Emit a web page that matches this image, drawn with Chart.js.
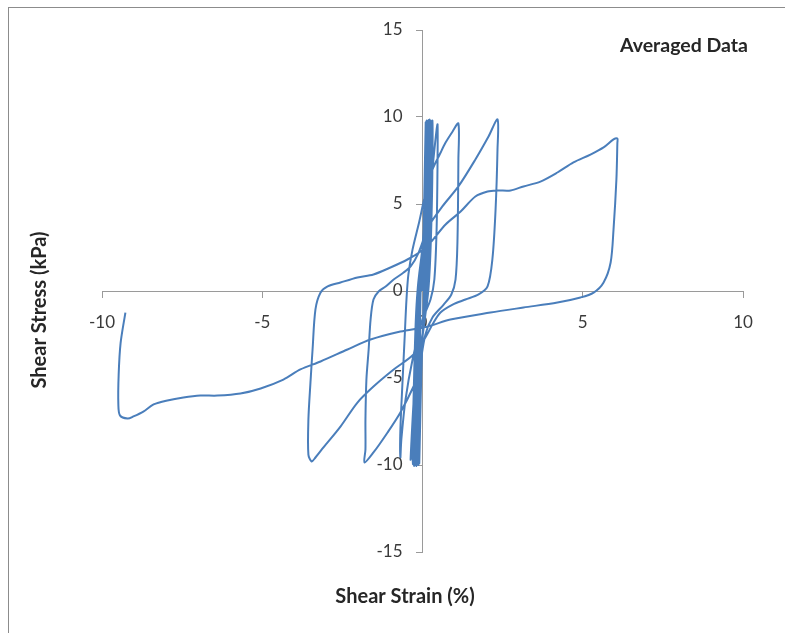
<!DOCTYPE html>
<html><head><meta charset="utf-8">
<script src="https://cdn.jsdelivr.net/npm/chart.js@4/dist/chart.umd.min.js"></script>
<style>
html,body{margin:0;padding:0;background:#fff;overflow:hidden;}
#wrap{position:relative;width:785px;height:633px;overflow:hidden;}
#frame{position:absolute;left:8px;top:7px;width:900px;height:900px;border:1px solid #8c8c8c;box-sizing:border-box;}
canvas{position:absolute;left:0;top:0;}
</style></head><body>
<div id="wrap"><div id="frame"></div><canvas id="c" width="785" height="633"></canvas></div>
<script>
// Tick labels
const xTickValues = [-10, -5, 0, 5, 10];
const yTickValues = [-15, -10, -5, 0, 5, 10, 15];

// Early small-strain cycles (dense band near the origin)
const bandStrain = [0.00, 0.05, 0.10,
  0.08, 0.05, -0.04, -0.10,
  -0.08, -0.06, 0.07, 0.13,
  0.11, 0.07, -0.06, -0.13,
  -0.11, -0.08, 0.09, 0.16,
  0.14, 0.09, -0.08, -0.16,
  -0.14, -0.10, 0.11, 0.19,
  0.17, 0.11, -0.10, -0.19,
  -0.17, -0.12, 0.13, 0.22,
  0.20, 0.13, -0.12, -0.22,
  -0.20, -0.14, 0.15, 0.25,
  0.23, 0.15, -0.14, -0.26,
  -0.23, -0.15, 0.17, 0.28,
  0.26, 0.17, -0.16, -0.30,
  -0.26, -0.16, 0.19, 0.31,
  0.29, 0.18, -0.20, -0.37];
const bandStress = [0.0, 4.8, 9.70,
  5.1, 0.2, -4.9, -9.90,
  -5.2, -0.1, 4.9, 9.80,
  5.0, 0.1, -5.1, -10.00,
  -4.8, 0.0, 5.2, 9.75,
  4.9, -0.1, -5.0, -9.95,
  -5.1, 0.1, 4.8, 9.82,
  5.2, 0.0, -4.9, -10.05,
  -5.0, -0.1, 5.0, 9.85,
  4.8, 0.1, -5.2, -10.00,
  -4.9, 0.0, 5.1, 9.80,
  5.0, -0.1, -4.8, -10.05,
  -5.2, 0.1, 4.9, 9.75,
  5.1, 0.0, -5.0, -9.95,
  -4.8, -0.1, 5.2, 9.80,
  4.9, 0.0, -5.1, -9.68];

// Cycle reaching +0.47 %
const cycleAStrain = [-0.31, -0.22, -0.12, -0.03, 0.09, 0.22, 0.34, 0.44, 0.47,
  0.47, 0.44, 0.37, 0.25, 0.00, -0.31, -0.53, -0.66, -0.69];
const cycleAStress = [-7.39, -4.51, -1.64, 0.66, 2.96, 5.26, 7.56, 9.28, 9.57,
  7.56, 3.53, 0.66, -0.49, -1.64, -3.94, -6.24, -8.53, -9.57];

// Cycle reaching +1.12 %
const cycleBStrain = [-0.69, -0.62, -0.56, -0.50, -0.44, -0.31, -0.10, 0.08, 0.31, 0.55, 0.72, 0.94, 1.12,
  1.12, 1.09, 1.03, 0.90, 0.66, 0.31, 0.09, -0.12, -0.28, -0.69, -1.09, -1.53, -1.81];
const cycleBStress = [-7.96, -5.09, -2.79, -0.49, 0.95, 2.39, 4.00, 5.50, 6.98, 7.90, 8.53, 9.17, 9.63,
  7.56, 2.79, 0.66, -0.20, -0.78, -1.52, -2.50, -4.68, -5.49, -6.98, -8.13, -9.28, -9.86];

// Cycle reaching +2.34 %
const cycleCStrain = [-1.78, -1.78, -1.75, -1.68, -1.62, -1.53, -1.37, -1.15, -0.90, -0.59, -0.37, -0.12, 0.19, 0.62, 1.12, 1.65, 2.06, 2.34,
  2.34, 2.28, 2.18, 2.03, 1.75, 1.34, 0.94, 0.56, 0.31, 0.09, -0.28, -0.90, -1.53, -2.03, -2.56, -3.09, -3.34, -3.46];
const cycleCStress = [-9.11, -7.39, -5.09, -3.36, -1.64, -0.49, -0.03, 0.26, 0.66, 1.06, 1.41, 2.21, 3.71, 4.86, 6.01, 7.56, 8.88, 9.86,
  8.13, 4.68, 1.81, 0.26, -0.20, -0.49, -0.78, -1.24, -1.93, -2.67, -3.65, -4.51, -5.49, -6.41, -7.79, -8.99, -9.57, -9.80];

// Final large cycle (+6.08 % / -9.49 %)
const cycleDStrain = [-3.56, -3.56, -3.49, -3.43, -3.34, -3.18, -2.96, -2.56, -2.03, -1.53, -1.00, -0.47, -0.06, 0.25, 0.72, 1.19, 1.65, 2.03, 2.34, 2.75, 3.15, 3.68, 4.21, 4.71, 5.24, 5.65, 5.96, 6.08,
  6.08, 6.05, 5.96, 5.87, 5.65, 5.34, 4.93, 4.21, 3.15, 2.12, 0.87, 0.16, -0.69, -1.62, -2.34, -3.18, -3.81, -4.34, -5.05, -5.68, -6.40, -6.93, -7.46, -7.96, -8.39, -8.71, -9.02, -9.20, -9.44, -9.49, -9.48, -9.42, -9.27];
const cycleDStress = [-9.40, -7.39, -5.09, -3.36, -1.06, -0.09, 0.26, 0.49, 0.78, 0.95, 1.35, 1.81, 2.27, 2.79, 3.82, 4.57, 5.43, 5.72, 5.78, 5.78, 6.01, 6.29, 6.81, 7.39, 7.84, 8.25, 8.71, 8.76,
  8.50, 6.41, 3.53, 1.64, 0.49, -0.09, -0.37, -0.66, -0.95, -1.24, -1.64, -2.04, -2.33, -2.79, -3.36, -4.05, -4.51, -5.09, -5.60, -5.89, -6.01, -6.01, -6.12, -6.29, -6.52, -6.93, -7.21, -7.33, -7.15, -6.50, -4.80, -3.00, -1.24];

const strainParts = [bandStrain, cycleAStrain, cycleBStrain, cycleCStrain, cycleDStrain];
const stressParts = [bandStress, cycleAStress, cycleBStress, cycleCStress, cycleDStress];

const points = [];
strainParts.forEach((xs, i) => {
  xs.forEach((x, j) => points.push({ x: x, y: stressParts[i][j] }));
});

const FONT_FAMILY = 'Lato, "Liberation Sans", sans-serif';
const TICK_FONT = { family: FONT_FAMILY, size: 17 };
const TICK_COLOR = '#3a3a3a';
const AXIS_COLOR = '#9a9a9a';

const textPlugin = {
  id: 'texts',
  afterDraw(chart) {
    const ctx = chart.ctx;
    ctx.save();
    // y tick labels, to the left of the crossing vertical axis
    const ys = chart.scales.y, xs = chart.scales.x;
    const axisX = xs.getPixelForValue(0);
    ctx.fillStyle = TICK_COLOR;
    ctx.font = '17px ' + FONT_FAMILY;
    ctx.textAlign = 'right';
    ctx.textBaseline = 'middle';
    yTickValues.forEach(v => {
      ctx.fillText(String(v), axisX - 20, ys.getPixelForValue(v));
    });
    // titles
    ctx.fillStyle = '#262626';
    ctx.textAlign = 'center';
    ctx.font = 'bold 19.5px ' + FONT_FAMILY;
    ctx.fillText('Averaged Data', 684, 46);
    ctx.font = 'bold 20px ' + FONT_FAMILY;
    ctx.fillText('Shear Strain (%)', 405, 597);
    ctx.translate(40, 310);
    ctx.rotate(-Math.PI / 2);
    ctx.fillText('Shear Stress (kPa)', 0, 0);
    ctx.restore();
  }
};

new Chart(document.getElementById('c'), {
  type: 'scatter',
  data: {
    datasets: [{
      data: points,
      showLine: true,
      borderColor: '#4a7ebb',
      borderWidth: 2,
      pointRadius: 0,
      tension: 0.3,
      fill: false
    }]
  },
  options: {
    responsive: false,
    animation: false,
    devicePixelRatio: 1,
    layout: { padding: { left: 102, right: 42, top: 30, bottom: 81 } },
    plugins: { legend: { display: false }, tooltip: { enabled: false } },
    scales: {
      x: {
        type: 'linear', min: -10, max: 10, position: { y: 0 },
        afterBuildTicks: (s) => { s.ticks = xTickValues.map(v => ({ value: v })); },
        ticks: { font: TICK_FONT, color: TICK_COLOR, padding: 15, maxRotation: 0, autoSkip: false },
        grid: { drawOnChartArea: false, drawTicks: true, tickLength: 6, color: AXIS_COLOR },
        border: { color: AXIS_COLOR, width: 1 }
      },
      y: {
        type: 'linear', min: -15, max: 15, position: { x: 0 },
        afterBuildTicks: (s) => { s.ticks = yTickValues.map(v => ({ value: v })); },
        ticks: { font: TICK_FONT, color: 'rgba(0,0,0,0)', autoSkip: false },
        grid: { drawOnChartArea: false, drawTicks: true, tickLength: 6, color: AXIS_COLOR },
        border: { color: AXIS_COLOR, width: 1 }
      }
    }
  },
  plugins: [textPlugin]
});
</script>
</body></html>
